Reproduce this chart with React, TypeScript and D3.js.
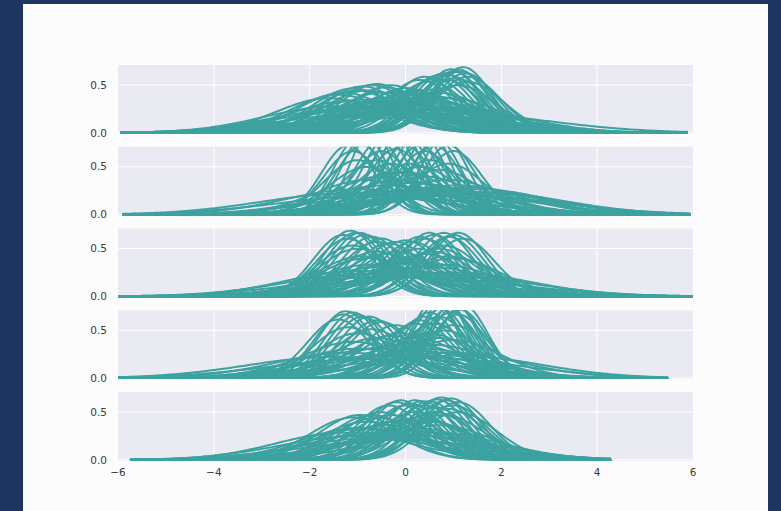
import * as React from "react";
import * as d3 from "d3";

// each curve: [center, spread] of a kernel density estimate
const row1Curves: [number, number][] = [
  [1.2, 0.58], [1.1, 0.6], [0.8, 0.64], [1.0, 0.62], [0.9, 0.66], [0.4, 0.68], [0.6, 0.7], [1.3, 0.68], [0.5, 0.74],
  [-0.6, 0.78], [-0.9, 0.82], [-0.3, 0.8], [0.0, 0.85], [-1.0, 0.9], [0.2, 0.9], [-0.5, 0.95], [0.3, 1.0], [-0.2, 1.05], [0.7, 0.95],
  [-1.6, 1.1], [-1.4, 1.0], [-1.2, 1.2], [-0.8, 1.3], [0.0, 1.25], [0.5, 1.2], [-1.5, 1.45], [-0.3, 1.5], [0.8, 1.3],
  [-1.0, 1.7], [0.2, 1.6], [-0.6, 1.9], [0.9, 1.5], [1.0, 2.0],
  [1.15, 0.62], [0.95, 0.6], [0.7, 0.66], [1.05, 0.7], [0.85, 0.72], [0.3, 0.72], [-0.7, 0.8], [-0.4, 0.84],
  [-1.1, 0.86], [-0.8, 0.9], [0.1, 0.95], [-0.1, 0.92], [0.5, 0.88], [0.6, 1.05], [-0.4, 1.1], [0.1, 1.15],
  [-0.9, 1.15], [0.4, 1.1], [-0.2, 1.3], [-0.7, 1.4], [0.3, 1.4], [-1.2, 1.6], [0.6, 1.6], [-0.1, 1.8],
  [-0.4, 1.2], [0.9, 1.1], [1.1, 0.8], [1.3, 0.75], [-1.3, 0.95], [1.25, 0.64],
];
const row2Curves: [number, number][] = [
  [-1.0, 0.5], [-0.7, 0.45], [-0.4, 0.5], [-0.1, 0.45], [0.2, 0.5], [0.5, 0.45], [0.8, 0.5], [-0.9, 0.55], [0.6, 0.55],
  [0.0, 0.55], [-0.5, 0.6], [0.4, 0.6], [1.0, 0.6], [-1.2, 0.55],
  [-0.3, 0.75], [0.3, 0.8], [-0.8, 0.8], [0.7, 0.85], [0.0, 0.9], [-0.5, 1.0],
  [0.2, 1.2], [-0.4, 1.3], [0.6, 1.4], [-1.0, 1.5], [0.0, 1.7], [1.0, 1.6], [-0.6, 2.0], [1.5, 1.5], [1.2, 2.0],
  [-0.85, 0.48], [-0.55, 0.52], [-0.25, 0.48], [0.05, 0.5], [0.35, 0.48], [0.65, 0.5], [0.9, 0.55], [-1.1, 0.6],
  [-0.2, 0.58], [0.3, 0.55], [-0.6, 0.7], [0.5, 0.7], [0.9, 0.75], [-1.0, 0.7], [0.1, 0.75], [-0.2, 0.9],
  [0.4, 1.0], [-0.8, 1.1], [0.9, 1.1], [-0.1, 1.1], [0.4, 1.5], [-0.3, 1.6], [1.4, 1.7], [0.8, 1.8], [-1.2, 1.8],
  [1.3, 1.4], [1.6, 1.7], [1.1, 1.3],
];
const row3Curves: [number, number][] = [
  [-1.15, 0.58], [-0.95, 0.6], [-1.3, 0.62], [-0.7, 0.64], [-0.5, 0.66], [0.5, 0.6], [1.0, 0.62], [0.8, 0.6],
  [0.3, 0.64], [1.2, 0.66], [0.0, 0.68], [-0.2, 0.7],
  [-1.0, 0.8], [0.7, 0.8], [-0.4, 0.9], [0.4, 0.9], [0.0, 1.0], [-0.8, 1.0], [1.0, 1.0],
  [-0.5, 1.3], [0.5, 1.3], [0.0, 1.5], [-1.0, 1.5], [1.0, 1.6], [-0.3, 1.9], [0.3, 2.0],
  [-1.05, 0.6], [-1.2, 0.66], [-0.85, 0.62], [-0.6, 0.7], [0.6, 0.62], [0.9, 0.64], [0.4, 0.66], [1.1, 0.6],
  [0.15, 0.7], [-0.35, 0.72], [-1.1, 0.75], [0.8, 0.75], [-0.6, 0.85], [0.55, 0.85], [-0.15, 0.85], [0.25, 0.8],
  [-0.9, 0.95], [0.9, 0.95], [-0.2, 1.1], [0.3, 1.1], [-0.7, 1.2], [0.7, 1.2], [-0.2, 1.4], [0.4, 1.6],
  [-0.8, 1.7], [0.8, 1.8],
];
const row4Curves: [number, number][] = [
  [-1.25, 0.57], [-1.0, 0.6], [-0.75, 0.62], [-1.4, 0.65], [-0.5, 0.68], [0.6, 0.5], [0.8, 0.48], [1.0, 0.5],
  [1.2, 0.52], [0.9, 0.55], [0.5, 0.58], [1.1, 0.6], [0.7, 0.62], [0.3, 0.66],
  [-1.0, 0.85], [0.8, 0.8], [-0.3, 0.9], [0.2, 0.95], [1.0, 1.0],
  [-0.6, 1.3], [0.4, 1.3], [-1.2, 1.5], [0.0, 1.6], [0.9, 1.5], [-0.8, 2.0], [0.5, 1.9],
  [-1.1, 0.58], [-0.9, 0.62], [-1.3, 0.6], [-0.6, 0.66], [0.65, 0.52], [0.85, 0.5], [1.05, 0.52], [0.75, 0.55],
  [0.95, 0.58], [1.15, 0.56], [0.4, 0.62], [0.2, 0.7], [-0.2, 0.72], [-1.2, 0.75], [-0.7, 0.78], [0.6, 0.7],
  [1.0, 0.72], [-0.1, 0.85], [0.5, 0.85], [-0.6, 0.95], [0.7, 0.95], [-1.1, 1.05], [0.1, 1.1], [-0.3, 1.2],
  [0.6, 1.15], [-1.0, 1.3], [0.2, 1.4], [-0.4, 1.7], [1.1, 1.7], [-1.5, 1.8],
];
const row5Curves: [number, number][] = [
  [-0.2, 0.66], [0.2, 0.64], [0.75, 0.61], [0.95, 0.62], [1.1, 0.66], [0.5, 0.65], [-0.95, 0.85], [0.0, 0.7],
  [0.6, 0.72], [-0.5, 0.8],
  [-0.6, 0.9], [0.3, 0.9], [0.8, 0.85], [-0.2, 1.0], [0.5, 1.0],
  [-0.8, 1.2], [0.2, 1.2], [-1.3, 1.4], [0.0, 1.5], [-0.5, 1.7], [0.6, 1.4],
  [-0.1, 0.64], [0.35, 0.65], [0.65, 0.63], [0.85, 0.64], [1.0, 0.7], [0.4, 0.7], [-0.35, 0.7], [0.1, 0.68],
  [-0.7, 0.85], [-1.1, 0.9], [-0.3, 0.85], [0.2, 0.8], [0.6, 0.8], [0.9, 0.75], [1.1, 0.8], [-0.8, 1.0],
  [0.0, 0.95], [0.4, 0.95], [-0.4, 1.1], [0.7, 1.1], [-1.0, 1.2], [0.1, 1.3], [-0.6, 1.4], [0.3, 1.6],
  [-1.0, 1.6], [-0.2, 1.9],
];

const rowCurves = [row1Curves, row2Curves, row3Curves, row4Curves, row5Curves];
// drawn extent of each row's curves
const rowExtents: [number, number][] = [[-5.95, 5.9], [-5.9, 5.95], [-6, 6], [-6, 5.5], [-5.75, 4.3]];

const xTicks = [-6, -4, -2, 0, 2, 4, 6];
const yTicks = [0.0, 0.5];

const W = 781;
const H = 511;
const LEFT = 118;
const RIGHT = 693;
const TOP = 65;
const STEP = 81.75;
const AX_H = 69;
const TEAL = "#3ca2a0";
const FONT = "DejaVu Sans, sans-serif";

function density(x: number, mu: number, sd: number) {
  const z = (x - mu) / sd;
  return Math.exp(-0.5 * z * z) / (sd * Math.sqrt(2 * Math.PI));
}

export default function App() {
  const x = d3.scaleLinear().domain([-6, 6]).range([LEFT, RIGHT]);

  return (
    <svg width={W} height={H} style={{ position: "absolute", left: 0, top: 0 }}>
      <rect width={W} height={H} fill="#1e3560" />
      <rect x={23} y={4} width={745} height={H - 4} fill="#fcfcfc" />
      <defs>
        {rowCurves.map((_, i) => (
          <clipPath key={i} id={`clip${i}`}>
            <rect x={LEFT} y={TOP + i * STEP} width={RIGHT - LEFT} height={AX_H} />
          </clipPath>
        ))}
      </defs>
      {rowCurves.map((curves, i) => {
        const top = TOP + i * STEP;
        const y = d3.scaleLinear().domain([-0.012, 0.71]).range([top + AX_H, top]);
        const [lo, hi] = rowExtents[i];
        const xs = d3.range(lo, hi + 0.001, 0.04);
        const line = d3.line<number>().x((v) => x(v));
        return (
          <g key={i}>
            <rect x={LEFT} y={top} width={RIGHT - LEFT} height={AX_H} fill="#eaeaf2" />
            {xTicks.slice(1, -1).map((t) => (
              <line key={t} x1={x(t)} x2={x(t)} y1={top} y2={top + AX_H} stroke="#fff" strokeWidth={1} />
            ))}
            {yTicks.map((t) => (
              <line key={t} x1={LEFT} x2={RIGHT} y1={y(t)} y2={y(t)} stroke="#fff" strokeWidth={1} />
            ))}
            <g clipPath={`url(#clip${i})`}>
              {curves.map(([mu, sd], j) => (
                <path
                  key={j}
                  d={line.y((v) => y(density(v, mu, sd)))(xs) ?? ""}
                  fill="none"
                  stroke={TEAL}
                  strokeWidth={2}
                />
              ))}
            </g>
            {yTicks.map((t) => (
              <text
                key={t}
                x={107}
                y={y(t)}
                dy="0.35em"
                textAnchor="end"
                fontFamily={FONT}
                fontSize={10.5}
                fill="#3a3a3a"
              >
                {t.toFixed(1)}
              </text>
            ))}
          </g>
        );
      })}
      {xTicks.map((t) => (
        <text
          key={t}
          x={x(t)}
          y={TOP + 4 * STEP + AX_H + 15}
          textAnchor="middle"
          fontFamily={FONT}
          fontSize={10.5}
          fill="#3a3a3a"
        >
          {t < 0 ? `\u2212${Math.abs(t)}` : `${t}`}
        </text>
      ))}
    </svg>
  );
}
